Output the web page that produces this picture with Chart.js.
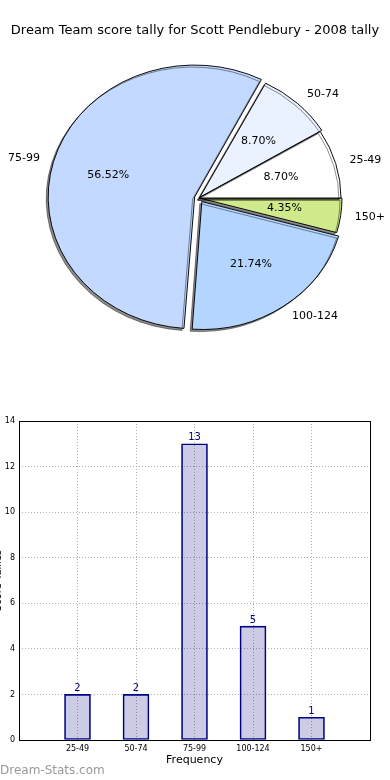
<!DOCTYPE html>
<html>
<head>
<meta charset="utf-8">
<script src="https://cdn.jsdelivr.net/npm/chart.js@4.4.1/dist/chart.umd.min.js"></script>
<style>
  body { margin: 0; background: #fff; width: 390px; height: 780px; overflow: hidden; position: relative; font-family: "DejaVu Sans", sans-serif; }
  #title { position: absolute; left: 0; top: 22px; width: 390px; text-align: center; font-size: 13px; line-height: 16px; color: #000; }
  #pieBox { position: absolute; left: 0; top: 0; width: 390px; height: 400px; }
  #barBox { position: absolute; left: -10px; top: 400px; width: 400px; height: 380px; }
  #mark { position: absolute; left: 0; top: 762px; font-size: 12px; line-height: 16px; color: #999; }
</style>
</head>
<body>
<div id="pieBox"><canvas id="pie"></canvas></div>
<div id="barBox"><canvas id="bar"></canvas></div>
<div id="title">Dream Team score tally for Scott Pendlebury - 2008 tally</div>
<div id="mark">Dream-Stats.com</div>
<script>
// categories and counts
var categories = ["25-49", "50-74", "75-99", "100-124", "150+"];
var counts = [2, 2, 13, 5, 1];
var yTickStep = 2;
var yMax = 14;

// pie look
var sliceColors = ["#ffffff", "#eaf1ff", "#c4d9ff", "#b3d5ff", "#cfea8b"];
var sliceShift = [0, 2, 9, 5, 1]; // explode in px
var squash = 0.9; // pie is a bit wider than tall

var total = counts.reduce(function (a, b) { return a + b; }, 0);

// pie goes counterclockwise from 3 o'clock, chart.js goes clockwise -> reverse
var pieLabels = categories.slice().reverse();
var pieValues = counts.slice().reverse();
var pieColors = sliceColors.slice().reverse();
var pieShift = sliceShift.slice().reverse();

// chart.js moves an arc by offset/4*(1+fix), turn px into its offset
function arcOffset(shift, value) {
  var circ = (value / total) * 2 * Math.PI;
  var fix = 1 - Math.sin(Math.min(Math.PI, circ));
  return (shift * 4) / (1 + fix);
}

var piePlugin = {
  id: "pieLook",
  beforeDatasetsDraw: function (chart) {
    var ctx = chart.ctx;
    var a = chart.getDatasetMeta(0).data[0];
    ctx.save();
    ctx.translate(a.x, a.y);
    ctx.scale(1, squash);
    ctx.translate(-a.x, -a.y);
    ctx.shadowColor = "rgba(0,0,0,0.45)";
    ctx.shadowOffsetX = -2;
    ctx.shadowOffsetY = 2;
    ctx.shadowBlur = 0;
  },
  afterDatasetsDraw: function (chart) {
    var ctx = chart.ctx;
    ctx.restore();
    ctx.save();
    ctx.font = '11px "DejaVu Sans"';
    ctx.fillStyle = "#000";
    ctx.textBaseline = "middle";
    chart.getDatasetMeta(0).data.forEach(function (a, i) {
      var mid = (a.startAngle + a.endAngle) / 2;
      var c = Math.cos(mid), s = Math.sin(mid);
      var r = a.outerRadius;
      var sh = pieShift[i];
      // outer label
      ctx.textAlign = c > 0 ? "left" : "right";
      ctx.fillText(pieLabels[i], a.x + c * (sh + r * 1.1), a.y + s * (sh + r * 1.1) * squash);
      // percent
      ctx.textAlign = "center";
      var pct = ((pieValues[i] / total) * 100).toFixed(2) + "%";
      ctx.fillText(pct, a.x + c * (sh + r * 0.6), a.y + s * (sh + r * 0.6) * squash);
    });
    ctx.restore();
  }
};

new Chart(document.getElementById("pie"), {
  type: "pie",
  data: {
    labels: pieLabels,
    datasets: [{
      data: pieValues,
      backgroundColor: pieColors,
      borderColor: "#000",
      borderWidth: 1,
      offset: pieValues.map(function (v, i) { return arcOffset(pieShift[i], v); }),
      clip: false
    }]
  },
  options: {
    responsive: true,
    maintainAspectRatio: false,
    animation: false,
    rotation: 90,
    radius: 142,
    layout: { padding: { top: 38, bottom: 42, left: 8, right: 0 } },
    plugins: { legend: { display: false }, tooltip: { enabled: false } }
  },
  plugins: [piePlugin]
});

// bar chart: frame + numbers on top
var barPlugin = {
  id: "barLook",
  afterDraw: function (chart) {
    var ctx = chart.ctx;
    var ca = chart.chartArea;
    ctx.save();
    ctx.strokeStyle = "#000";
    ctx.lineWidth = 1;
    ctx.strokeRect(Math.round(ca.left) + 0.5, Math.round(ca.top) + 0.5,
      Math.round(ca.right - ca.left), Math.round(ca.bottom - ca.top));
    ctx.fillStyle = "#000080";
    ctx.font = '10px "DejaVu Sans"';
    ctx.textAlign = "center";
    ctx.textBaseline = "bottom";
    chart.getDatasetMeta(0).data.forEach(function (bar, i) {
      ctx.fillText(String(counts[i]), bar.x, bar.y - 1);
    });
    ctx.restore();
  }
};

new Chart(document.getElementById("bar"), {
  type: "bar",
  data: {
    datasets: [{
      data: counts.map(function (v, i) { return { x: i + 1, y: v }; }),
      backgroundColor: "rgba(0,0,128,0.2)",
      borderColor: "#000080",
      borderWidth: 1,
      borderSkipped: false,
      barThickness: 26
    }]
  },
  options: {
    responsive: true,
    maintainAspectRatio: false,
    animation: false,
    layout: { padding: { top: 21, right: 20, bottom: 0, left: 0 } },
    plugins: { legend: { display: false }, tooltip: { enabled: false } },
    scales: {
      x: {
        type: "linear",
        offset: false,
        min: 0,
        max: categories.length + 1,
        afterFit: function (s) { s.height = 40; },
        ticks: {
          stepSize: 1,
          autoSkip: false,
          maxRotation: 0,
          padding: 4,
          color: "#000",
          font: { size: 8, family: "DejaVu Sans" },
          callback: function (v) { return categories[v - 1] || ""; }
        },
        grid: { color: "#b0b0b0", drawTicks: false, offset: false },
        border: { display: false, dash: [1, 2] },
        title: { display: true, text: "Frequency", color: "#000", font: { size: 11, family: "DejaVu Sans" }, padding: { top: 0, bottom: 13 } }
      },
      y: {
        min: 0,
        max: yMax,
        afterFit: function (s) { s.width = 29; },
        ticks: { stepSize: yTickStep, padding: 4, color: "#000", font: { size: 8, family: "DejaVu Sans" } },
        grid: { color: "#b0b0b0", drawTicks: false },
        border: { display: false, dash: [1, 2] },
        title: { display: true, text: "Score Tallies", color: "#000", font: { size: 10, family: "DejaVu Sans" }, padding: { top: 2, bottom: 0 } }
      }
    }
  },
  plugins: [barPlugin]
});
</script>
</body>
</html>
